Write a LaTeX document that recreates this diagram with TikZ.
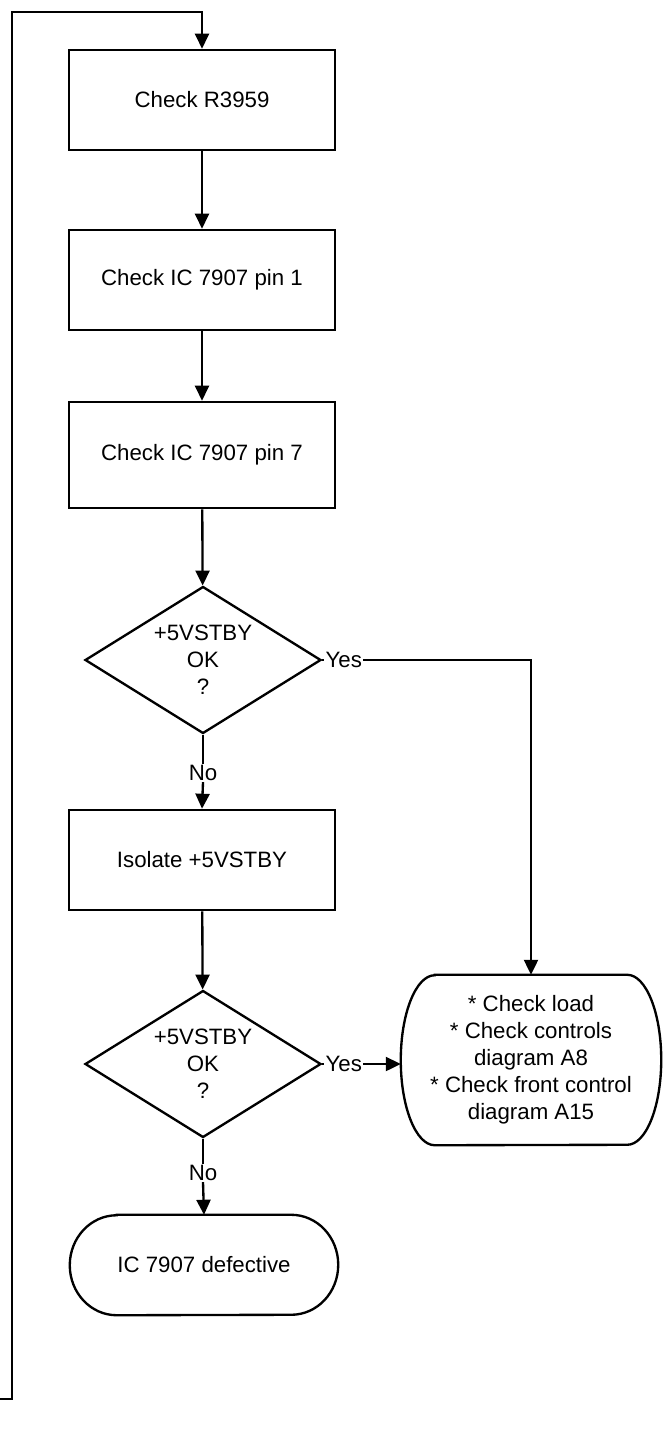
\documentclass[tikz,border=0pt]{standalone}
\usepackage{fontspec}
\setmainfont{Liberation Sans}
\usetikzlibrary{shapes.geometric,arrows.meta}

\def\pu{0.3mm}
\tikzset{
  line/.style={line width=2pt},
  arr/.style={line, -{Triangle[length=4.5mm,width=4.2mm]}},
  box/.style={draw, line width=2.2pt, minimum width=266*\pu, minimum height=100*\pu,
    inner sep=0pt, align=center},
  decision/.style={diamond, aspect=1.6, draw, line width=2pt, minimum width=236*\pu,
    minimum height=147*\pu, inner sep=0pt, align=center},
  term/.style={inner sep=0pt, align=center},
  lbl/.style={inner sep=1pt},
}

\begin{document}
\begin{tikzpicture}[x=\pu, y=-\pu, font=\fontsize{19}{23}\selectfont]
      \useasboundingbox (0,0) rectangle (662,1446);
      %
      \node[box] (chkr) at (202,100) {Check R3959};            % top rectangle
      \node[box] (pin1) at (202,280) {Check IC 7907 pin 1};
      \node[box, minimum height=106*\pu] (pin7) at (202,455) {Check IC 7907 pin 7};
      %
      \node[decision] (ok1) at (203,660) {+5VSTBY\\OK\\?};
      \node[lbl] (no1) at (203,773) {No};
      \node[box] (iso) at (202,860) {Isolate +5VSTBY};
      %
      \node[decision] (ok2) at (203,1064) {+5VSTBY\\OK\\?};
      \node[lbl] (no2) at (203,1173) {No};
      %
      \node[term, minimum width=268*\pu, minimum height=100*\pu] (bad) at (204,1265)
        {IC 7907 defective};
      \node[term, minimum width=260*\pu, minimum height=170*\pu] (load) at (531,1060)
        {* Check load\\* Check controls\\diagram A8\\* Check front control\\diagram A15};
      %
      \node[lbl, anchor=west] (yes1) at ([xshift=2*\pu]ok1.east) {Yes};
      \node[lbl, anchor=west] (yes2) at ([xshift=2*\pu]ok2.east) {Yes};
      %
      % rounded ends of the two terminals
      \draw[line] ([xshift=47*\pu]bad.north west) -- ([xshift=-47*\pu]bad.north east)
        arc[start angle=90, end angle=-90, x radius=47*\pu, y radius=50*\pu]
        -- ([xshift=47*\pu]bad.south west)
        arc[start angle=270, end angle=90, x radius=47*\pu, y radius=50*\pu] -- cycle;
      \draw[line] ([xshift=34*\pu]load.north west) -- ([xshift=-34*\pu]load.north east)
        arc[start angle=90, end angle=-90, x radius=34*\pu, y radius=85*\pu]
        -- ([xshift=34*\pu]load.south west)
        arc[start angle=270, end angle=90, x radius=34*\pu, y radius=85*\pu] -- cycle;
      %
      \draw[arr] (chkr) -- (pin1);
      \draw[arr] (pin1) -- (pin7);
      \draw[arr] (pin7) -- (ok1);
      \draw[line] (ok1.south) -- (no1.north);
      \draw[arr] (no1.south) -- (iso.north);
      \draw[arr] (iso) -- (ok2);
      \draw[line] (ok2.south) -- (no2.north);
      \draw[arr] (no2.south) -- (bad.north);
      %
      \draw[line] (ok1.east) -- (yes1.west);
      \draw[arr] (yes1.east) -| (load.north);
      \draw[line] (ok2.east) -- (yes2.west);
      \draw[arr] (yes2.east) -- (yes2.east -| load.west);
      %
      % loop back to the top
      \coordinate (lbot) at (0,1399);
      \coordinate (lcor) at (12,1399);
      \coordinate (ltop) at (12,12);
      \draw[arr] (lbot) -- (lcor) -- (ltop) -| (chkr.north);
      %
    \end{tikzpicture}
\end{document}
